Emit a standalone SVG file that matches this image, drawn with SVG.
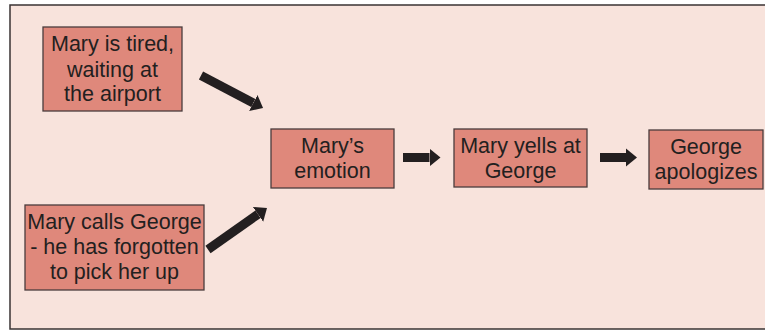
<svg xmlns="http://www.w3.org/2000/svg" width="765" height="330" viewBox="0 0 765 330">
<style>
.frame{fill:#f8e3dc;stroke:#3a3333;stroke-width:1.5}
.box{fill:#df887b;stroke:#4a3c3c;stroke-width:1.3}
text{font-family:"Liberation Sans",Arial,sans-serif;font-size:21.5px;fill:#231f20;text-anchor:middle}
.conn{stroke:#231f20;stroke-width:9;fill:none}
</style>
<defs>
<marker id="ah" markerUnits="userSpaceOnUse" markerWidth="12" markerHeight="20" refX="0" refY="10" orient="auto">
<path d="M0,1 L11,10 L0,19 z" fill="#231f20"/>
</marker>
</defs>
<rect class="frame" x="10" y="5" width="770" height="324"/>
<g id="n1">
<rect class="box" x="43" y="27" width="139" height="84"/>
<text x="112.5" y="51">Mary is tired,</text>
<text x="112.5" y="77">waiting at</text>
<text x="112.5" y="101">the airport</text>
</g>
<g id="n2">
<rect class="box" x="25" y="205" width="179" height="85"/>
<text x="114.5" y="229">Mary calls George</text>
<text x="114.5" y="254">- he has forgotten</text>
<text x="114.5" y="279">to pick her up</text>
</g>
<g id="n3">
<rect class="box" x="271" y="129" width="123" height="59"/>
<text x="332.5" y="153">Mary’s</text>
<text x="332.5" y="178">emotion</text>
</g>
<g id="n4">
<rect class="box" x="454" y="129" width="133" height="58"/>
<text x="520.5" y="153">Mary yells at</text>
<text x="520.5" y="178">George</text>
</g>
<g id="n5">
<rect class="box" x="649" y="130" width="114" height="59"/>
<text x="706" y="154">George</text>
<text x="706" y="179">apologizes</text>
</g>
<g id="connectors">
<line class="conn" x1="201" y1="75.5" x2="253.3" y2="103" marker-end="url(#ah)"/>
<line class="conn" x1="208" y1="249.5" x2="258" y2="214.3" marker-end="url(#ah)"/>
<line class="conn" x1="403" y1="157.5" x2="429.5" y2="157.5" marker-end="url(#ah)"/>
<line class="conn" x1="600" y1="157.5" x2="626" y2="157.5" marker-end="url(#ah)"/>
</g>
</svg>
